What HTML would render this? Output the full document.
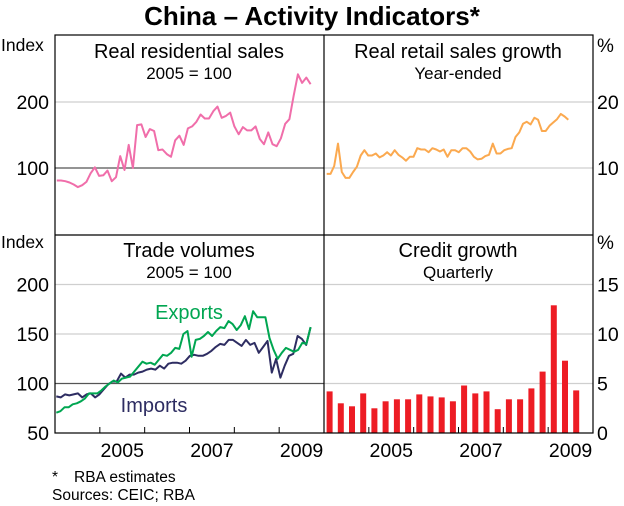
<!DOCTYPE html>
<html><head><meta charset="utf-8"><style>
html,body{margin:0;padding:0;background:#fff;}
svg{display:block;font-family:"Liberation Sans",Arial,sans-serif;}
</style></head><body>
<svg id="c" width="624" height="506" viewBox="0 0 624 506" xmlns="http://www.w3.org/2000/svg">
<text x="312" y="25" text-anchor="middle" font-size="26" font-weight="bold">China – Activity Indicators*</text>
<text x="52" y="482" font-size="15.5">*</text>
<text x="74" y="482" font-size="15.5">RBA estimates</text>
<text x="52" y="500" font-size="15.5">Sources: CEIC; RBA</text>
</svg>
<script>
const residential = [81,81,80,78,75,71,74,79,92,101,88,89,96,80,86,118,97,135,100,165,166,147,159,156,127,128,121,117,142,149,135,160,163,170,181,175,175,186,193,176,179,184,163,151,162,157,157,163,144,136,154,136,133,145,167,174,209,242,229,237,227];
const resStart = 2004.04, resEnd = 2009.7;
const retail = [9.1,9.1,10.3,13.7,9.4,8.5,8.5,9.4,10.2,11.9,12.7,11.9,11.9,12.2,11.6,11.9,12.4,11.9,12.7,12.0,11.6,11.1,11.7,11.7,13.0,12.8,12.8,12.4,13.0,12.8,12.5,12.8,11.7,12.7,12.7,12.4,13.0,13.0,12.5,11.7,11.3,11.4,11.8,12.0,13.7,12.2,12.2,12.7,12.9,13.0,14.7,15.4,16.7,17.0,16.6,17.6,17.3,15.6,15.6,16.4,16.9,17.4,18.2,17.8,17.3];
const retStart = 2004.06, retEnd = 2009.45;
const exportsV = [70.5,72,76,76,79,80,82,85,90,90,90,93,97,100,103,101,105,106,107,112,117,122,120,121,119,124,129,128,131,136,135,150,153,127,144,145,148,152,148,153,157,156,163,160,154,159,168,155,173,167,167,167,146,134,125,131,136,134,132,134,141,140,157];
const importsV = [87,86,89,88,89,90,86,89,90,86,89,94,99,102,102,110,106,109,109,111,112,114,115,114,118,115,120,121,121,120,123,128,129,128,128,130,133,137,140,139,144,144,141,138,144,139,141,131,137,143,111,125,106,118,128,130,148,145,139,157];
const tradeStart = 2004.03, tradeEnd = 2009.7;
const credit = [4.2,3.0,2.7,4.0,2.5,3.2,3.4,3.4,3.9,3.7,3.6,3.2,4.8,4.0,4.2,2.4,3.4,3.4,4.5,6.2,12.9,7.3,4.3];
const creditStart = 2004.0;
const yearLabels = ["2005","2007","2009"];

const NS="http://www.w3.org/2000/svg", svg=document.getElementById('c');
function mk(tag,attrs,parent){const e=document.createElementNS(NS,tag);for(const k in attrs)e.setAttribute(k,attrs[k]);(parent||svg).appendChild(e);return e;}
const L={x0:55,x1:324}, R={x0:324,x1:593};
const TOP={y0:36,y1:234}, BOT={y0:235,y1:433};
const xL=t=>L.x0+(t-2004)*((L.x1-L.x0)/6);
const xR=t=>R.x0+(t-2004)*((R.x1-R.x0)/6);
const yTL=v=>TOP.y1-v*(TOP.y1-TOP.y0)/300;
const yTR=v=>TOP.y1-v*(TOP.y1-TOP.y0)/30;
const yBL=v=>BOT.y1-(v-50)*(BOT.y1-BOT.y0)/200;
const yBR=v=>BOT.y1-v*(BOT.y1-BOT.y0)/20;

function hline(x0,x1,y,col,name){const l=mk('line',{x1:x0,x2:x1,y1:y,y2:y,stroke:col,'stroke-width':1.2});}
hline(L.x0,L.x1,yTL(200),'#cfcfcf','grid-res-200');
hline(L.x0,L.x1,yTL(100),'#555','grid-res-100');
hline(R.x0,R.x1,yTR(20),'#cfcfcf','grid-ret-20');
hline(R.x0,R.x1,yTR(10),'#cfcfcf','grid-ret-10');
hline(L.x0,L.x1,yBL(200),'#cfcfcf','grid-trade-200');
hline(L.x0,L.x1,yBL(150),'#cfcfcf','grid-trade-150');
hline(L.x0,L.x1,yBL(100),'#555','grid-trade-100');
[5,10,15].forEach(v=>hline(R.x0,R.x1,yBR(v),'#cfcfcf','grid-credit-'+v));

function series(vals,s,e,xf,yf,col,name){
  const n=vals.length;let d='';
  vals.forEach((v,i)=>{const t=s+(e-s)*i/(n-1);d+=(i?'L':'M')+xf(t).toFixed(1)+','+yf(v).toFixed(1);});
  const p=mk('path',{d:d,fill:'none',stroke:col,'stroke-width':2,'stroke-linejoin':'round'});
  
}
series(residential,resStart,resEnd,xL,yTL,'#f06eaa','residential-sales-line');
series(retail,retStart,retEnd,xR,yTR,'#fba94f','retail-sales-line');
series(importsV,tradeStart,tradeEnd,xL,yBL,'#2e2d62','imports-line');
series(exportsV,tradeStart,tradeEnd,xL,yBL,'#00a651','exports-line');
credit.forEach((v,i)=>{
  const c=xR(creditStart+(i+0.5)/4);
  const b=mk('rect',{x:(c-3).toFixed(1),y:yBR(v).toFixed(1),width:6,height:(yBR(0)-yBR(v)).toFixed(1),fill:'#ed1c24'});
  
  
});
const fr=mk('rect',{x:L.x0,y:35,width:R.x1-L.x0,height:433-35,fill:'none',stroke:'#000','stroke-width':1.2});

const vd=mk('line',{x1:324,x2:324,y1:35,y2:433,stroke:'#000','stroke-width':1.2});

const hd=mk('line',{x1:L.x0,x2:R.x1,y1:235,y2:235,stroke:'#000','stroke-width':1.2});

for(let y=2005;y<=2009;y++){
  [xL(y),xR(y)].forEach(x=>{const t=mk('line',{x1:x,x2:x,y1:427,y2:433,stroke:'#000','stroke-width':1});});
}
yearLabels.forEach(l=>{const y=+l;
  [xL(y+0.5),xR(y+0.5)].forEach(x=>{const t=mk('text',{x:x,y:457,'text-anchor':'middle','font-size':19.5});t.textContent=l;});
});
function txt(x,y,s,anchor,size,name,fill){const t=mk('text',{x:x,y:y,'text-anchor':anchor,'font-size':size,fill:fill||'#000'});t.textContent=s;}
txt(1,51,'Index','start',17.5,'y-axis-unit-top-left');
txt(49,yTL(200)+7,'200','end',19.5,'y-tick-label');
txt(49,yTL(100)+7,'100','end',19.5,'y-tick-label');
txt(1,248,'Index','start',17.5,'y-axis-unit-bottom-left');
[200,150,100,50].forEach(v=>txt(49,yBL(v)+7,String(v),'end',19.5,'y-tick-label'));
txt(597,52,'%','start',19,'y-axis-unit-top-right');
[20,10].forEach(v=>txt(597,yTR(v)+7,String(v),'start',19.5,'y-tick-label'));
txt(597,249,'%','start',19,'y-axis-unit-bottom-right');
[15,10,5,0].forEach(v=>txt(597,yBR(v)+7,String(v),'start',19.5,'y-tick-label'));
txt(189,58,'Real residential sales','middle',20,'panel-title-residential');
txt(189,79,'2005 = 100','middle',17,'panel-subtitle-residential');
txt(458,58,'Real retail sales growth','middle',20,'panel-title-retail');
txt(458,79,'Year-ended','middle',17,'panel-subtitle-retail');
txt(189,257,'Trade volumes','middle',20,'panel-title-trade');
txt(189,278,'2005 = 100','middle',17,'panel-subtitle-trade');
txt(458,257,'Credit growth','middle',20,'panel-title-credit');
txt(458,278,'Quarterly','middle',17,'panel-subtitle-credit');
txt(189,319,'Exports','middle',20,'exports-label','#00a651');
txt(154,412,'Imports','middle',20,'imports-label','#2e2d62');
</script>
</body></html>
